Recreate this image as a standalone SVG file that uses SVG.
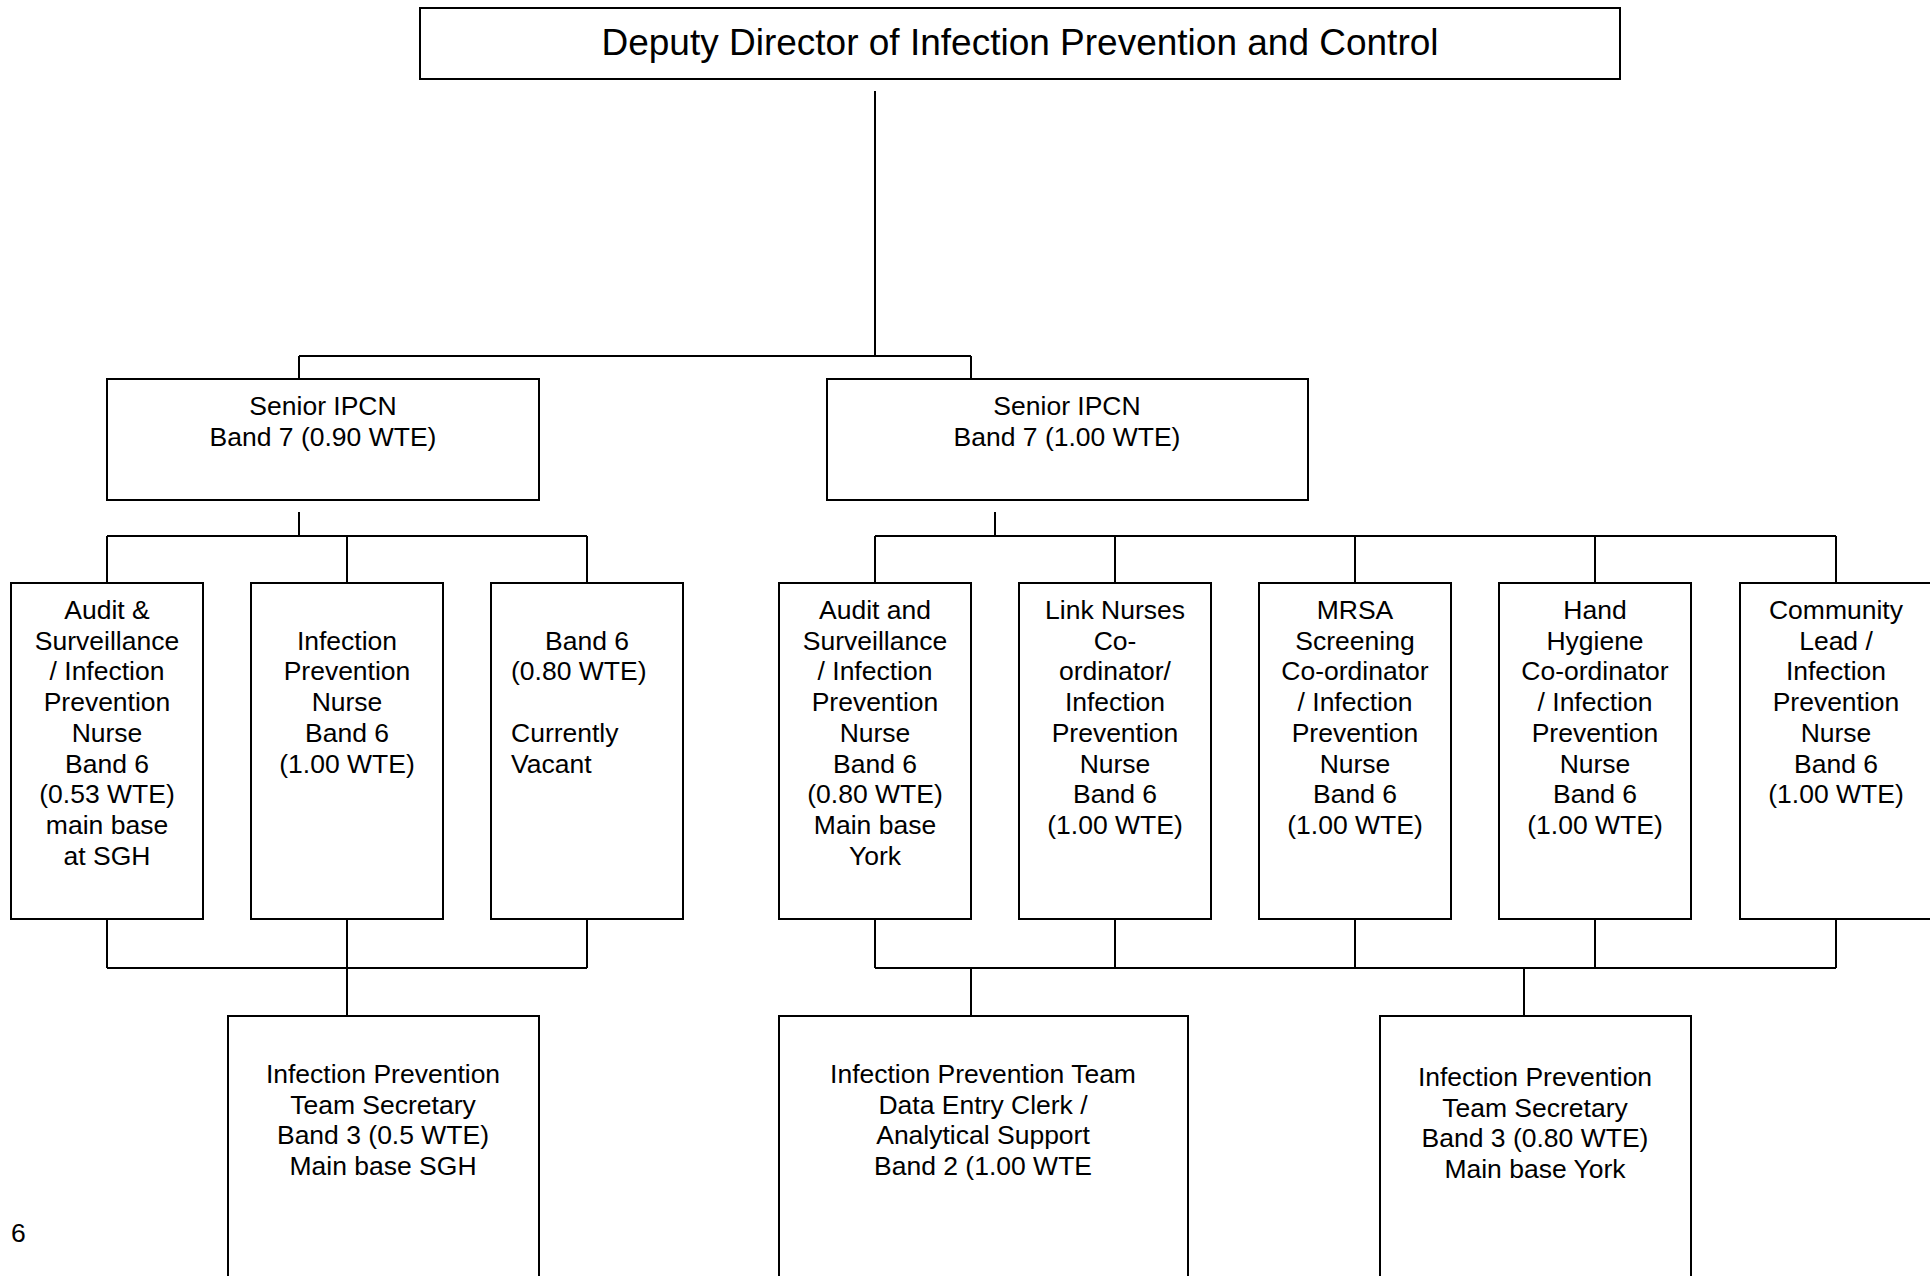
<svg xmlns="http://www.w3.org/2000/svg" width="1930" height="1276" viewBox="0 0 1930 1276">
<style>
.box{fill:#fff;stroke:#000;stroke-width:2}
.ln{fill:none;stroke:#000;stroke-width:2}
text{font-family:"Liberation Sans",Arial,sans-serif;font-size:26.5px;fill:#000;text-anchor:middle}
.big{font-size:37px}
.l{text-anchor:start}
</style>
<rect width="1930" height="1276" fill="#fff"/>
<g id="connectors">
<path class="ln" d="M875 91V356M299 356H971M299 356V379M971 356V379"/>
<path class="ln" d="M299 512V536M107 536H587M107 536V583M347 536V583M587 536V583"/>
<path class="ln" d="M107 919V968M347 919V1016M587 919V968M107 968H587"/>
<path class="ln" d="M995 512V536M875 536H1836M875 536V583M1115 536V583M1355 536V583M1595 536V583M1836 536V583"/>
<path class="ln" d="M875 919V968M1115 919V968M1355 919V968M1595 919V968M1836 919V968M875 968H1836M971 968V1016M1524 968V1016"/>
</g>
<g id="deputy">
<rect class="box" x="420" y="8" width="1200" height="71"/>
<text class="big" x="1020" y="55">Deputy Director of Infection Prevention and Control</text>
</g>
<g id="senior1">
<rect class="box" x="107" y="379" width="432" height="121"/>
<text x="323" y="415">Senior IPCN</text>
<text x="323" y="446">Band 7 (0.90 WTE)</text>
</g>
<g id="senior2">
<rect class="box" x="827" y="379" width="481" height="121"/>
<text x="1067" y="415">Senior IPCN</text>
<text x="1067" y="446">Band 7 (1.00 WTE)</text>
</g>
<g id="audit-sgh">
<rect class="box" x="11" y="583" width="192" height="336"/>
<text x="107" y="619">Audit &amp;</text>
<text x="107" y="649.7">Surveillance</text>
<text x="107" y="680.4">/ Infection</text>
<text x="107" y="711.1">Prevention</text>
<text x="107" y="741.8">Nurse</text>
<text x="107" y="772.5">Band 6</text>
<text x="107" y="803.2">(0.53 WTE)</text>
<text x="107" y="833.9">main base</text>
<text x="107" y="864.6">at SGH</text>
</g>
<g id="ipn-left">
<rect class="box" x="251" y="583" width="192" height="336"/>
<text x="347" y="649.7">Infection</text>
<text x="347" y="680.4">Prevention</text>
<text x="347" y="711.1">Nurse</text>
<text x="347" y="741.8">Band 6</text>
<text x="347" y="772.5">(1.00 WTE)</text>
</g>
<g id="vacant">
<rect class="box" x="491" y="583" width="192" height="336"/>
<text x="587" y="649.7">Band 6</text>
<text class="l" x="511" y="680.4">(0.80 WTE)</text>
<text class="l" x="511" y="741.8">Currently</text>
<text class="l" x="511" y="772.5">Vacant</text>
</g>
<g id="audit-york">
<rect class="box" x="779" y="583" width="192" height="336"/>
<text x="875" y="619">Audit and</text>
<text x="875" y="649.7">Surveillance</text>
<text x="875" y="680.4">/ Infection</text>
<text x="875" y="711.1">Prevention</text>
<text x="875" y="741.8">Nurse</text>
<text x="875" y="772.5">Band 6</text>
<text x="875" y="803.2">(0.80 WTE)</text>
<text x="875" y="833.9">Main base</text>
<text x="875" y="864.6">York</text>
</g>
<g id="link-nurses">
<rect class="box" x="1019" y="583" width="192" height="336"/>
<text x="1115" y="619">Link Nurses</text>
<text x="1115" y="649.7">Co-</text>
<text x="1115" y="680.4">ordinator/</text>
<text x="1115" y="711.1">Infection</text>
<text x="1115" y="741.8">Prevention</text>
<text x="1115" y="772.5">Nurse</text>
<text x="1115" y="803.2">Band 6</text>
<text x="1115" y="833.9">(1.00 WTE)</text>
</g>
<g id="mrsa">
<rect class="box" x="1259" y="583" width="192" height="336"/>
<text x="1355" y="619">MRSA</text>
<text x="1355" y="649.7">Screening</text>
<text x="1355" y="680.4">Co-ordinator</text>
<text x="1355" y="711.1">/ Infection</text>
<text x="1355" y="741.8">Prevention</text>
<text x="1355" y="772.5">Nurse</text>
<text x="1355" y="803.2">Band 6</text>
<text x="1355" y="833.9">(1.00 WTE)</text>
</g>
<g id="hand-hygiene">
<rect class="box" x="1499" y="583" width="192" height="336"/>
<text x="1595" y="619">Hand</text>
<text x="1595" y="649.7">Hygiene</text>
<text x="1595" y="680.4">Co-ordinator</text>
<text x="1595" y="711.1">/ Infection</text>
<text x="1595" y="741.8">Prevention</text>
<text x="1595" y="772.5">Nurse</text>
<text x="1595" y="803.2">Band 6</text>
<text x="1595" y="833.9">(1.00 WTE)</text>
</g>
<g id="community">
<rect class="box" x="1740" y="583" width="192" height="336"/>
<text x="1836" y="619">Community</text>
<text x="1836" y="649.7">Lead /</text>
<text x="1836" y="680.4">Infection</text>
<text x="1836" y="711.1">Prevention</text>
<text x="1836" y="741.8">Nurse</text>
<text x="1836" y="772.5">Band 6</text>
<text x="1836" y="803.2">(1.00 WTE)</text>
</g>
<g id="secretary-sgh">
<rect class="box" x="228" y="1016" width="311" height="280"/>
<text x="383" y="1083">Infection Prevention</text>
<text x="383" y="1113.7">Team Secretary</text>
<text x="383" y="1144.4">Band 3 (0.5 WTE)</text>
<text x="383" y="1175.1">Main base SGH</text>
</g>
<g id="data-entry">
<rect class="box" x="779" y="1016" width="409" height="280"/>
<text x="983" y="1083">Infection Prevention Team</text>
<text x="983" y="1113.7">Data Entry Clerk /</text>
<text x="983" y="1144.4">Analytical Support</text>
<text x="983" y="1175.1">Band 2 (1.00 WTE</text>
</g>
<g id="secretary-york">
<rect class="box" x="1380" y="1016" width="311" height="280"/>
<text x="1535" y="1086">Infection Prevention</text>
<text x="1535" y="1116.7">Team Secretary</text>
<text x="1535" y="1147.4">Band 3 (0.80 WTE)</text>
<text x="1535" y="1178.1">Main base York</text>
</g>
<text class="l" x="11" y="1242">6</text>
</svg>
